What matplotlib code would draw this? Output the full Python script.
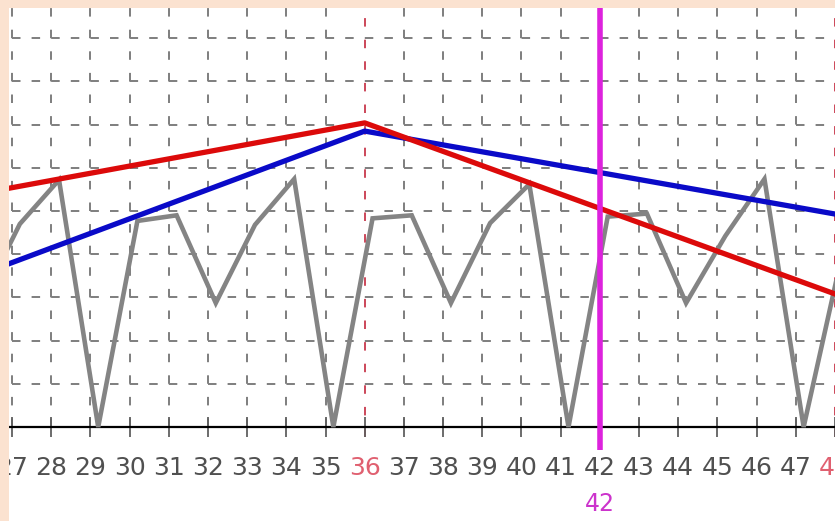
import matplotlib
matplotlib.use("Agg")
import matplotlib.pyplot as plt
from matplotlib.patches import Rectangle

# gray series (points sit 0.2 to the right of the integer ticks)
gray_x = [26.2, 27.2, 28.2, 29.2, 30.2, 31.2, 32.2, 33.2, 34.2, 35.2, 36.2, 37.2,
          38.2, 39.2, 40.2, 41.2, 42.2, 43.2, 44.2, 45.2, 46.2, 47.2, 48.2]
gray_y = [2.87, 4.70, 5.72, 0.0, 4.77, 4.90, 2.87, 4.68, 5.74, 0.0, 4.83, 4.90,
          2.87, 4.72, 5.62, 0.0, 4.87, 4.94, 2.87, 4.42, 5.74, 0.0, 4.07]

red_x = [24, 36, 48]
red_y = [5.04, 7.04, 3.08]

blue_x = [24, 36, 48]
blue_y = [2.79, 6.85, 4.93]

tick_values = list(range(27, 49))
marked_ticks = [36, 48]
cursor_x = 42

W, H, DPI = 835, 521, 100
BORDER_L, BORDER_T = 9, 8
PEACH = '#FBE2D0'

plt.rcParams['lines.scale_dashes'] = False

fig = plt.figure(figsize=(W / DPI, H / DPI), dpi=DPI, facecolor=PEACH)
ax = fig.add_axes([BORDER_L / W, 0, 1 - BORDER_L / W, (H - BORDER_T) / H])
ax.set_facecolor('white')
for s in ax.spines.values():
    s.set_visible(False)
ax.spines['bottom'].set_position(('data', 0))

# scales: 27 at px 12, 39.2 px per unit; 0 at px 427, 43.2 px per unit
px_x, px_y = 39.2, 43.2
xmin = 27 - (12 - BORDER_L) / px_x
xmax = xmin + (W - BORDER_L) / px_x
ymin = -(H - 427) / px_y
ymax = (427 - BORDER_T) / px_y
ax.set_xlim(xmin, xmax)
ax.set_ylim(ymin, ymax)

pt = 72 / DPI
on = 8.5 * pt
vdash = (0, (on, px_y / 2 * pt - on))
hdash = (0, (on, px_x / 2 * pt - on))
grid_col = '#7e7e7e'
ax.vlines([t for t in tick_values if t not in marked_ticks], 0, ymax,
          colors=grid_col, linewidth=1.4, linestyles=[vdash], zorder=1)
ax.hlines(range(1, 10), 27, xmax + 1, colors=grid_col, linewidth=1.4,
          linestyles=[hdash], zorder=1)
ax.vlines(marked_ticks, -0.24, ymax, colors='#c8384c', linewidth=1.3,
          linestyles=[vdash], zorder=1.5)

ax.axhline(0, color='black', linewidth=1.6, zorder=2)

ax.plot(gray_x, gray_y, color='#848484', linewidth=3.3, zorder=3,
        solid_joinstyle='miter')
ax.plot(blue_x, blue_y, color='#0a0ac8', linewidth=3.8, zorder=4)
ax.plot(red_x, red_y, color='#dc0a0a', linewidth=3.8, zorder=5)

ax.plot([cursor_x, cursor_x], [-0.53, ymax], color='#dd22dd', linewidth=4,
        solid_capstyle='butt', zorder=6)
ax.text(cursor_x, -1.78, str(cursor_x), color='#cc33cc', fontsize=17,
        ha='center', va='center', family='DejaVu Sans')

ax.set_yticks([])
ax.set_xticks(tick_values)
ax.set_xticklabels([str(t) for t in tick_values])
ax.tick_params(axis='x', direction='inout', length=14, width=1.3, color='#606060',
               pad=14, labelsize=18, labelcolor='#505050')
for lab, t in zip(ax.get_xticklabels(), tick_values):
    lab.set_family('Liberation Sans Narrow')
    if t in marked_ticks:
        lab.set_color('#e06070')
ax.xaxis.set_ticks_position('bottom')

# peach frame drawn over the tick labels on the left and top
fig.add_artist(Rectangle((0, 0), BORDER_L / W, 1, transform=fig.transFigure,
                         facecolor=PEACH, edgecolor='none', zorder=10))
fig.add_artist(Rectangle((0, 1 - BORDER_T / H), 1, BORDER_T / H, transform=fig.transFigure,
                         facecolor=PEACH, edgecolor='none', zorder=10))

fig.savefig('out.png', dpi=DPI, facecolor=PEACH)
